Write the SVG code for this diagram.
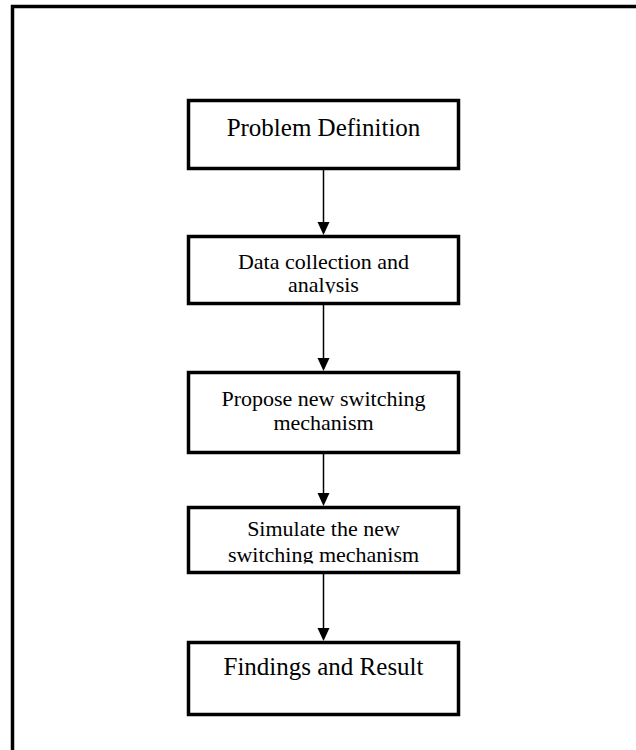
<svg xmlns="http://www.w3.org/2000/svg" width="636" height="750" viewBox="0 0 636 750">
  <style>
    .frame { fill: none; stroke: #000; stroke-width: 3.5; }
    .box { fill: #fff; stroke: #000; stroke-width: 3.5; }
    .lbl { font-family: "Liberation Serif", "Times New Roman", serif; fill: #000; text-anchor: middle; }
    .big { font-size: 25px; }
    .small { font-size: 22px; }
    .wire { stroke: #000; stroke-width: 1.5; fill: none; }
    .head { fill: #000; }
  </style>
  <defs>
    <!-- downward arrowhead, tip at the origin -->
    <path id="tip" class="head" d="M-6,-13 L6,-13 L0,0 Z"/>
    <!-- text in these boxes is cut off at the inner edge of the box -->
    <clipPath id="clip-data"><rect x="190" y="238" width="267" height="55.5"/></clipPath>
    <clipPath id="clip-sim"><rect x="190" y="509" width="267" height="54.5"/></clipPath>
  </defs>

  <rect width="636" height="750" fill="#fff"/>
  <!-- page frame, running off the right and bottom edges -->
  <rect class="frame" x="12.5" y="6.5" width="700" height="800"/>

  <g id="connectors">
    <line class="wire" x1="323.5" y1="170" x2="323.5" y2="224"/>
    <use href="#tip" x="323.5" y="235"/>
    <line class="wire" x1="323.5" y1="305" x2="323.5" y2="360"/>
    <use href="#tip" x="323.5" y="371"/>
    <line class="wire" x1="323.5" y1="454" x2="323.5" y2="495"/>
    <use href="#tip" x="323.5" y="506"/>
    <line class="wire" x1="323.5" y1="574" x2="323.5" y2="630"/>
    <use href="#tip" x="323.5" y="641"/>
  </g>

  <g id="problem-definition">
    <rect class="box" x="188.5" y="100.5" width="270" height="68"/>
    <text class="lbl big" x="323.5" y="136">Problem Definition</text>
  </g>

  <g id="data-collection">
    <rect class="box" x="188.5" y="236.5" width="270" height="67"/>
    <g clip-path="url(#clip-data)">
      <text class="lbl small" x="323.5" y="269">Data collection and</text>
      <text class="lbl small" x="323.5" y="292">analysis</text>
    </g>
  </g>

  <g id="propose-mechanism">
    <rect class="box" x="188.5" y="372.5" width="270" height="80"/>
    <text class="lbl small" x="323.5" y="406">Propose new switching</text>
    <text class="lbl small" x="323.5" y="430">mechanism</text>
  </g>

  <g id="simulate-mechanism">
    <rect class="box" x="188.5" y="507.5" width="270" height="65"/>
    <g clip-path="url(#clip-sim)">
      <text class="lbl small" x="323.5" y="536">Simulate the new</text>
      <text class="lbl small" x="323.5" y="562">switching mechanism</text>
    </g>
  </g>

  <g id="findings-result">
    <rect class="box" x="188.5" y="642.5" width="270" height="72"/>
    <text class="lbl big" x="323.5" y="675">Findings and Result</text>
  </g>
</svg>
